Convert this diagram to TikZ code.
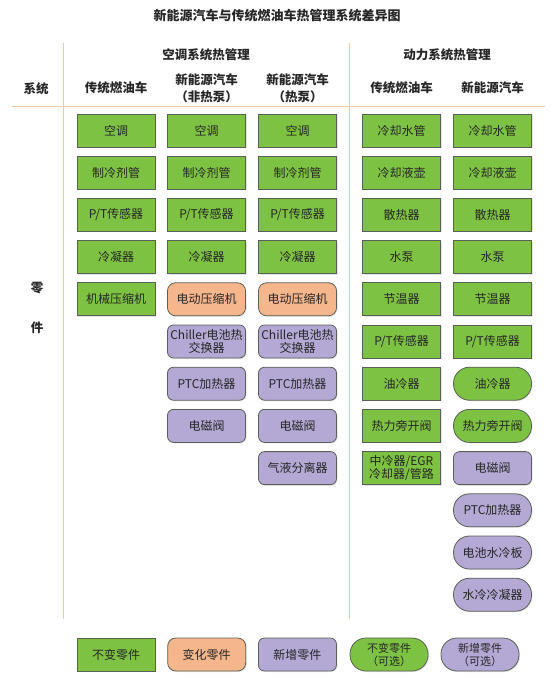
\documentclass[tikz,border=0pt]{standalone}
\usepackage{fontspec}
\setmainfont{Noto Sans CJK SC}
\usepackage{xcolor}
\usepackage{tikz}
\usetikzlibrary{shadows}
\definecolor{tmgreen}{HTML}{7EC244}
\definecolor{tmorange}{HTML}{F5B68C}
\definecolor{tmpurple}{HTML}{B4A8D4}
\definecolor{tmedge}{HTML}{5A5F55}
\definecolor{tmline}{HTML}{F2C9A6}
\definecolor{tmtext}{HTML}{262626}
\tikzset{
  part/.style={draw=tmedge,line width=0.8pt,minimum width=78pt,minimum height=33pt,inner sep=1pt,align=center,
    font=\fontsize{12}{13.5}\selectfont,text=tmtext,drop shadow={opacity=0.2,shadow xshift=1pt,shadow yshift=-1pt}},
  same/.style={part,fill=tmgreen},
  chg/.style={part,fill=tmorange,rounded corners=8pt},
  added/.style={part,fill=tmpurple,rounded corners=6pt},
  sameopt/.style={same,rounded corners=16pt},
  addedopt/.style={added,rounded corners=16pt},
  hd/.style={font=\bfseries\fontsize{12.5}{17}\selectfont,align=center,text=tmtext},
  sepline/.style={draw=tmline,line width=0.9pt},
}

\begin{document}
\begin{tikzpicture}[x=1pt,y=-1pt]
  \useasboundingbox (0,0) rectangle (554,687);
  % headers
  \node[hd,font=\bfseries\fontsize{13}{16}\selectfont] (title) at (277,16) {新能源汽车与传统燃油车热管理系统差异图};
  \node[hd] (ac) at (206,55) {空调系统热管理};
  \node[hd] (pw) at (447,55) {动力系统热管理};
  \node[hd] (sys) at (36,89) {系统};
  \node[hd] (h1) at (116,88) {传统燃油车};
  \node[hd] (h2) at (206.5,88) {新能源汽车\\（非热泵）};
  \node[hd] (h3) at (297.5,88) {新能源汽车\\（热泵）};
  \node[hd] (h4) at (401.5,88) {传统燃油车};
  \node[hd] (h5) at (492.5,88) {新能源汽车};
  \node[hd] (ling) at (37,288) {零};
  \node[hd] (jian) at (37,328) {件};
  % separators
  \draw[sepline] (63,43) -- (63,619);
  \draw[sepline] (349,43) -- (349,619);
  \draw[sepline] (12,106) -- (545,106);
  % air conditioning columns
  \foreach \x/\c in {116/a,206.5/b,297.5/c}
    \foreach \t [count=\i] in {空调,制冷剂管,P/T传感器,冷凝器}
      \node[same] (\c\i) at (\x,{130.5+42.2*(\i-1)}) {\t};
  \node[same] (a5) at (116,299.3) {机械压缩机};
  \foreach \x/\c in {206.5/b,297.5/c}{
    \node[chg] (\c5) at (\x,299.3) {电动压缩机};
    \node[added] (\c6) at (\x,341.5) {Chiller电池热\\交换器};
    \node[added] (\c7) at (\x,383.7) {PTC加热器};
    \node[added] (\c8) at (\x,425.9) {电磁阀};
  }
  \node[added] (c9) at (297.5,468.1) {气液分离器};
  % power columns
  \foreach \t [count=\i] in {冷却水管,冷却液壶,散热器,水泵,节温器,P/T传感器,油冷器,热力旁开阀,{中冷器/EGR\\冷却器/管路}}
    \node[same] (d\i) at (401.5,{130.5+42.2*(\i-1)}) {\t};
  \foreach \t [count=\i] in {冷却水管,冷却液壶,散热器,水泵,节温器,P/T传感器}
    \node[same] (e\i) at (492.5,{130.5+42.2*(\i-1)}) {\t};
  \node[sameopt] (e7) at (492.5,383.7) {油冷器};
  \node[sameopt] (e8) at (492.5,425.9) {热力旁开阀};
  \node[added] (e9) at (492.5,468.1) {电磁阀};
  \node[addedopt] (e10) at (492.5,510.3) {PTC加热器};
  \node[addedopt] (e11) at (492.5,552.5) {电池水冷板};
  \node[addedopt] (e12) at (492.5,594.7) {水冷冷凝器};
  % legend
  \node[same] (lg1) at (116,654.5) {不变零件};
  \node[chg] (lg2) at (206.7,654.5) {变化零件};
  \node[added] (lg3) at (297.4,654.5) {新增零件};
  \node[sameopt,font=\fontsize{11}{13}\selectfont] (lg4) at (389,654.5) {不变零件\\（可选）};
  \node[addedopt,font=\fontsize{11}{13}\selectfont] (lg5) at (480,654.5) {新增零件\\（可选）};
\end{tikzpicture}
\end{document}
